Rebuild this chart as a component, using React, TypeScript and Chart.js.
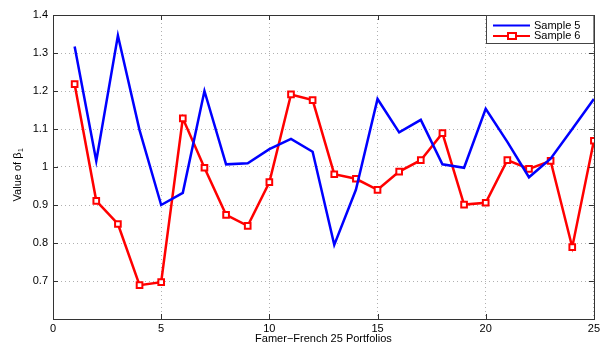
import React, { useEffect, useRef } from "react";
import { Chart, registerables } from "chart.js";

Chart.register(...registerables);

const portfolios = [1, 2, 3, 4, 5, 6, 7, 8, 9, 10, 11, 12, 13, 14, 15, 16, 17, 18, 19, 20, 21, 22, 23, 24, 25];
const sample5 = [1.317, 1.016, 1.346, 1.097, 0.9, 0.932, 1.2, 1.007, 1.01, 1.047, 1.074, 1.04, 0.795, 0.94, 1.179, 1.091, 1.124, 1.007, 0.998, 1.153, 1.066, 0.973, 1.022, 1.1, 1.179];
const sample6 = [1.218, 0.911, 0.85, 0.689, 0.697, 1.128, 0.998, 0.874, 0.845, 0.96, 1.191, 1.176, 0.981, 0.969, 0.94, 0.988, 1.018, 1.089, 0.901, 0.906, 1.018, 0.995, 1.016, 0.789, 1.069];
const seriesNames = ["Sample 5", "Sample 6"];
const xTitle = "Famer\u2212French 25 Portfolios";
const yTitleMain = "Value of \u03b2";
const yTitleSub = "1";

const FONT = "'Liberation Sans', Arial, Helvetica, sans-serif";

const framePlugin = {
  id: "frame",
  afterDraw(chart: any) {
    const { ctx, chartArea: a, scales } = chart;
    ctx.save();
    // box
    ctx.strokeStyle = "#333";
    ctx.lineWidth = 1;
    ctx.strokeRect(Math.round(a.left) + 0.5, Math.round(a.top) + 0.5, Math.round(a.right - a.left), Math.round(a.bottom - a.top));
    // inward ticks
    const tl = 5;
    ctx.beginPath();
    scales.x.ticks.forEach((t: any) => {
      const px = Math.round(scales.x.getPixelForValue(t.value)) + 0.5;
      ctx.moveTo(px, a.bottom); ctx.lineTo(px, a.bottom - tl);
      ctx.moveTo(px, a.top); ctx.lineTo(px, a.top + tl);
    });
    scales.y.ticks.forEach((t: any) => {
      const py = Math.round(scales.y.getPixelForValue(t.value)) + 0.5;
      ctx.moveTo(a.left, py); ctx.lineTo(a.left + tl, py);
      ctx.moveTo(a.right, py); ctx.lineTo(a.right - tl, py);
    });
    ctx.stroke();

    // axis titles
    ctx.fillStyle = "#000";
    ctx.font = `11px ${FONT}`;
    ctx.textAlign = "center";
    ctx.textBaseline = "middle";
    ctx.fillText(xTitle, (a.left + a.right) / 2, 339);

    ctx.save();
    ctx.translate(18, 175);
    ctx.rotate(-Math.PI / 2);
    ctx.font = `11px ${FONT}`;
    const w1 = ctx.measureText(yTitleMain).width;
    ctx.font = `7px ${FONT}`;
    const w2 = ctx.measureText(yTitleSub).width;
    const start = -(w1 + w2) / 2;
    ctx.textAlign = "left";
    ctx.font = `11px ${FONT}`;
    ctx.fillText(yTitleMain, start, 0);
    ctx.font = `7px ${FONT}`;
    ctx.fillText(yTitleSub, start + w1 + 0.5, 3.5);
    ctx.restore();

    // legend
    const lx = 486.5, ly = a.top + 0.5, lw = a.right - 486.5, lh = 28;
    ctx.fillStyle = "#fff";
    ctx.fillRect(lx, ly, lw, lh);
    ctx.strokeStyle = "#444";
    ctx.lineWidth = 1;
    ctx.strokeRect(lx, ly, lw, lh);
    const rows = [
      { y: 25.5, color: "#0000ff", marker: false, name: seriesNames[0] },
      { y: 36, color: "#ff0000", marker: true, name: seriesNames[1] },
    ];
    rows.forEach((r) => {
      ctx.strokeStyle = r.color;
      ctx.lineWidth = 1.8;
      ctx.beginPath();
      ctx.moveTo(493, r.y); ctx.lineTo(530, r.y);
      ctx.stroke();
      if (r.marker) {
        ctx.fillStyle = "#fff";
        ctx.fillRect(508, r.y - 3, 8, 6);
        ctx.lineWidth = 2;
        ctx.strokeRect(508, r.y - 3, 8, 6);
      }
      ctx.fillStyle = "#000";
      ctx.font = `11px ${FONT}`;
      ctx.textAlign = "left";
      ctx.textBaseline = "middle";
      ctx.fillText(r.name, 534, r.y);
    });
    ctx.restore();
  },
};

export default function App() {
  const ref = useRef<HTMLCanvasElement>(null);
  useEffect(() => {
    if (!ref.current) return;
    const chart = new Chart(ref.current, {
      type: "line",
      data: {
        datasets: [
          {
            label: seriesNames[0],
            data: portfolios.map((x, i) => ({ x, y: sample5[i] })),
            borderColor: "#0000ff",
            borderWidth: 2.5,
            pointRadius: 0,
            tension: 0,
          },
          {
            label: seriesNames[1],
            data: portfolios.map((x, i) => ({ x, y: sample6[i] })),
            borderColor: "#ff0000",
            borderWidth: 2.5,
            pointStyle: "rect",
            pointRadius: 4,
            pointBorderWidth: 2,
            pointBorderColor: "#ff0000",
            pointBackgroundColor: "#ffffff",
            tension: 0,
          },
        ],
      },
      options: {
        responsive: false,
        animation: false,
        layout: { padding: { left: 0, top: 15, right: 8, bottom: 0 } },
        plugins: { legend: { display: false }, tooltip: { enabled: false } },
        scales: {
          x: {
            type: "linear",
            min: 0,
            max: 25,
            afterFit: (s: any) => { s.height = 27; },
            ticks: { stepSize: 5, color: "#000", font: { family: FONT, size: 11 }, padding: 3, maxRotation: 0 },
            grid: { color: "#b0b0b0", lineWidth: 1, drawTicks: false },
            border: { display: false, dash: [1, 3] },
          },
          y: {
            min: 0.6,
            max: 1.4,
            afterFit: (s: any) => { s.width = 53; },
            ticks: {
              stepSize: 0.1,
              color: "#000",
              font: { family: FONT, size: 11 },
              padding: 5,
              callback: (v: any) => {
                const r = Math.round(Number(v) * 10) / 10;
                if (r < 0.65) return "";
                return r === 1 ? "1" : r.toFixed(1);
              },
            },
            grid: { color: "#b0b0b0", lineWidth: 1, drawTicks: false },
            border: { display: false, dash: [1, 3] },
          },
        },
      },
      plugins: [framePlugin],
    });
    return () => chart.destroy();
  }, []);
  return (
    <div style={{ position: "fixed", left: 0, top: 0, width: 603, height: 346, background: "#fff" }}>
      <canvas ref={ref} width={603} height={346} style={{ width: 603, height: 346 }} />
    </div>
  );
}
